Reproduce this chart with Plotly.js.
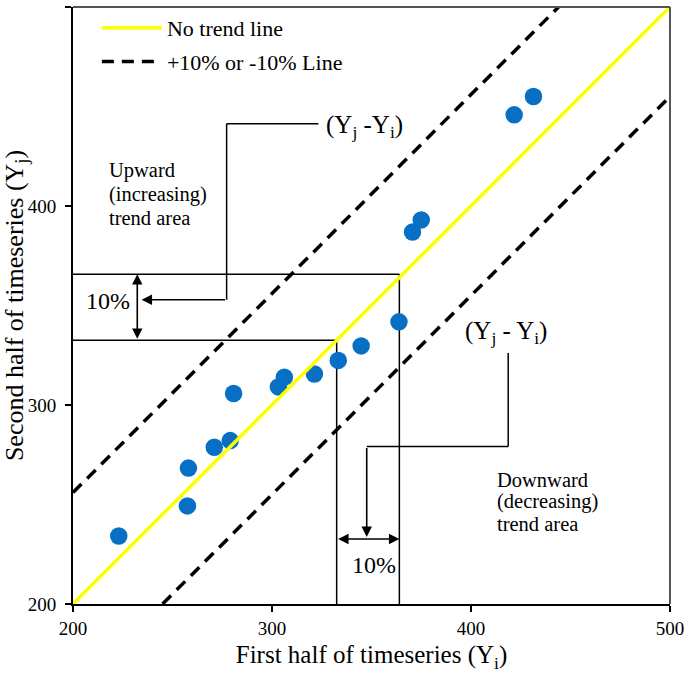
<!DOCTYPE html>
<html><head><meta charset="utf-8">
<script src="https://cdn.plot.ly/plotly-3.0.1.min.js"></script>
<style>html,body{margin:0;padding:0;background:#fff}</style>
</head><body><div id="chart" style="width:685px;height:674px"></div>
<script>
// Data
const firstHalf  = [223, 257.5, 258, 271, 279, 280.7, 303.2, 306.2, 321.3, 333.3, 344.8, 363.8, 370.6, 375, 421.7, 431.4];
const secondHalf = [234.2, 249.3, 268.3, 278.8, 282.1, 305.8, 309.1, 314, 315.6, 322.4, 329.7, 341.8, 386.9, 393, 445.8, 455];

const noTrendX = [200, 500];
const noTrendY = [200, 500];
const upperLineX = [200, 444];
const upperLineY = [256, 500];
const lowerLineX = [245, 500];
const lowerLineY = [200, 455];

const tickValues = [200, 300, 400, 500];
const tickLabels = ['200', '300', '400', '500'];

// 10% illustration values
const baseValue = 332.5;
const plusTenValue = 365.75;
const upperLeader = {x: [323.3, 277.2, 277.2], y: [441.3, 441.3, 352.9], tipX: 234.5};
const lowerLeader = {x: [418.7, 418.7, 347.6], y: [326.1, 279.2, 279.2], tipY: 233.7};
const vArrowX = 232.3;
const hArrowY = 232.7;

const upwardLines = ['Upward', '(increasing)', 'trend area'];
const upwardY = [417.6, 405.6, 393.8];
const downwardLines = ['Downward', '(decreasing)', 'trend area'];
const downwardY = [262.5, 251.3, 240.2];

const FONT = 'Liberation Serif, Times New Roman, serif';

const traces = [
  {x: firstHalf, y: secondHalf, type: 'scatter', mode: 'markers',
   marker: {color: '#0870c4', size: 17.5}, showlegend: false, hoverinfo: 'skip'},
  {x: noTrendX, y: noTrendY, type: 'scatter', mode: 'lines', name: 'No trend line',
   line: {color: '#ffff00', width: 3.5}, legendgroup: 'a'},
  {x: upperLineX.concat([null], lowerLineX), y: upperLineY.concat([null], lowerLineY),
   type: 'scatter', mode: 'lines', name: '+10% or -10% Line', connectgaps: false,
   line: {color: '#000', width: 3.5, dash: '12px,8px'}, legendgroup: 'b'}
];

const thin = {color: '#000', width: 1.5};
const shapes = [
  {type: 'line', xref: 'x', yref: 'y', x0: 200, x1: 364, y0: plusTenValue, y1: plusTenValue, line: thin, layer: 'below'},
  {type: 'line', xref: 'x', yref: 'y', x0: 364, x1: 364, y0: plusTenValue, y1: 200, line: thin, layer: 'below'},
  {type: 'line', xref: 'x', yref: 'y', x0: 200, x1: baseValue, y0: baseValue, y1: baseValue, line: thin, layer: 'below'},
  {type: 'line', xref: 'x', yref: 'y', x0: baseValue, x1: baseValue, y0: baseValue, y1: 200, line: thin, layer: 'below'},
  {type: 'line', xref: 'x', yref: 'y', x0: upperLeader.x[0], x1: upperLeader.x[1], y0: upperLeader.y[0], y1: upperLeader.y[1], line: thin},
  {type: 'line', xref: 'x', yref: 'y', x0: upperLeader.x[1], x1: upperLeader.x[2], y0: upperLeader.y[1], y1: upperLeader.y[2], line: thin},
  {type: 'line', xref: 'x', yref: 'y', x0: lowerLeader.x[0], x1: lowerLeader.x[1], y0: lowerLeader.y[0], y1: lowerLeader.y[1], line: thin},
  {type: 'line', xref: 'x', yref: 'y', x0: lowerLeader.x[1], x1: lowerLeader.x[2], y0: lowerLeader.y[1], y1: lowerLeader.y[2], line: thin},
  // top and right frame
  {type: 'line', xref: 'paper', yref: 'paper', x0: 0, x1: 1, y0: 1, y1: 1, line: {color: '#555', width: 2}},
  {type: 'line', xref: 'paper', yref: 'paper', x0: 1, x1: 1, y0: 0, y1: 1, line: {color: '#555', width: 2}}
];

const arrowStyle = {showarrow: true, text: '', arrowhead: 2, arrowsize: 1.3, arrowwidth: 1.6, arrowcolor: '#000',
  axref: 'x', ayref: 'y', xref: 'x', yref: 'y', standoff: 0, startstandoff: 0};
const labelFont = {family: FONT, size: 25, color: '#000'};
const areaFont = {family: FONT, size: 20.5, color: '#000'};
const annotations = [
  Object.assign({}, arrowStyle, {x: vArrowX, y: plusTenValue, ax: vArrowX, ay: baseValue, arrowside: 'end+start'}),
  Object.assign({}, arrowStyle, {x: 364, y: hArrowY, ax: baseValue, ay: hArrowY, arrowside: 'end+start'}),
  Object.assign({}, arrowStyle, {x: upperLeader.tipX, y: upperLeader.y[2], ax: upperLeader.x[2], ay: upperLeader.y[2]}),
  Object.assign({}, arrowStyle, {x: lowerLeader.x[2], y: lowerLeader.tipY, ax: lowerLeader.x[2], ay: lowerLeader.y[2]}),
  {x: 346.7, y: 440, xref: 'x', yref: 'y', showarrow: false, text: '(Y<sub>j</sub> -Y<sub>i</sub>)', font: labelFont},
  {x: 417.5, y: 336.2, xref: 'x', yref: 'y', showarrow: false, text: '(Y<sub>j</sub> - Y<sub>i</sub>)', font: labelFont},
  {x: 217.4, y: 352.5, xref: 'x', yref: 'y', showarrow: false, text: '10%', font: {family: FONT, size: 24, color: '#000'}},
  {x: 351.3, y: 219.8, xref: 'x', yref: 'y', showarrow: false, text: '10%', font: {family: FONT, size: 24, color: '#000'}}
];
upwardLines.forEach((t, i) => annotations.push({x: 217.6, y: upwardY[i], xref: 'x', yref: 'y', xanchor: 'left',
  showarrow: false, text: t, font: areaFont, borderpad: 0}));
downwardLines.forEach((t, i) => annotations.push({x: 412.6, y: downwardY[i], xref: 'x', yref: 'y', xanchor: 'left',
  showarrow: false, text: t, font: areaFont, borderpad: 0}));

const axisCommon = {
  range: [200, 500], tickvals: tickValues, ticktext: tickLabels, showgrid: false, zeroline: false,
  showline: true, linecolor: '#000', linewidth: 2, ticks: 'outside', ticklen: 6, tickwidth: 2, tickcolor: '#000',
  tickfont: {family: FONT, size: 19, color: '#000'}, fixedrange: true
};

const layout = {
  width: 685, height: 674,
  margin: {l: 73, r: 15, t: 7, b: 70},
  paper_bgcolor: '#fff', plot_bgcolor: '#fff',
  font: {family: FONT, color: '#000', size: 16},
  xaxis: Object.assign({}, axisCommon, {
    title: {text: 'First half of timeseries (Y<sub>i</sub>)', font: {family: FONT, size: 25, color: '#000'}, standoff: 8}
  }),
  yaxis: Object.assign({}, axisCommon, {
    ticklabelstandoff: 5,
    title: {text: 'Second half of timeseries (Y<sub>j</sub>)', font: {family: FONT, size: 26, color: '#000'}, standoff: 4}
  }),
  showlegend: true,
  legend: {x: 0.04, y: 1.0, xanchor: 'left', yanchor: 'top', bgcolor: 'rgba(0,0,0,0)',
    font: {family: FONT, size: 22, color: '#000'}, itemwidth: 60, traceorder: 'grouped', tracegroupgap: 2},
  shapes: shapes,
  annotations: annotations
};

Plotly.newPlot('chart', traces, layout, {displayModeBar: false, staticPlot: true});
</script>
</body></html>
